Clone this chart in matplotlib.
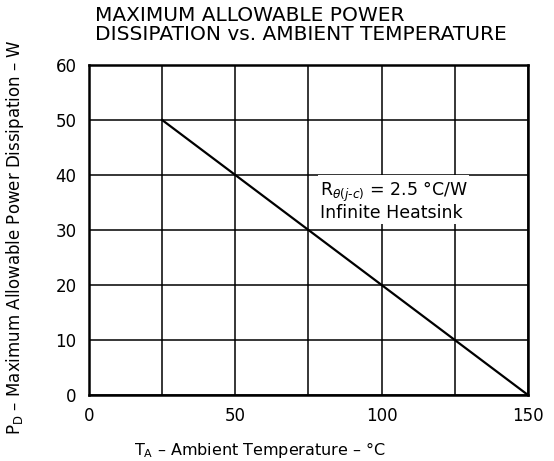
import matplotlib
matplotlib.use("Agg")
import matplotlib.pyplot as plt

temps = [25, 150]
power = [50, 0]
x_ticks = [0, 50, 100, 150]
x_minor = [25, 75, 125]
y_ticks = [0, 10, 20, 30, 40, 50, 60]

plt.rcParams['font.family'] = ['DejaVu Sans']
fig = plt.figure(figsize=(5.54, 4.61), dpi=100)
ax = fig.add_axes([0.1606, 0.1432, 0.7924, 0.7158])

ax.set_xlim(0, 150)
ax.set_ylim(0, 60)
ax.set_xticks(x_ticks)
ax.set_xticks(x_minor, minor=True)
ax.set_yticks(y_ticks)
ax.grid(True, which='both', color='black', linewidth=1.1)
ax.tick_params(which='both', length=0, labelsize=12, pad=9)
for s in ax.spines.values():
    s.set_linewidth(1.8)

ax.plot(temps, power, color='black', linewidth=1.6)

ax.text(78.8, 35.2, "R$_{\\theta(j\\text{-}c)}$ = 2.5 °C/W\nInfinite Heatsink",
        fontsize=12.5, va='center', ha='left', linespacing=1.0,
        bbox=dict(facecolor='white', edgecolor='none', pad=1.0))

ax.set_xlabel("T$_\\mathrm{A}$ – Ambient Temperature – °C", fontsize=11.5)
ax.xaxis.set_label_coords(0.39, -0.135)
ax.set_ylabel("P$_\\mathrm{D}$ – Maximum Allowable Power Dissipation – W", fontsize=12)
ax.yaxis.set_label_coords(-0.143, 0.478)
fig.text(0.1715, 0.988, "MAXIMUM ALLOWABLE POWER\nDISSIPATION vs. AMBIENT TEMPERATURE",
         fontsize=14.5, va='top', ha='left', linespacing=1.0)

fig.savefig("out.png", dpi=100)
